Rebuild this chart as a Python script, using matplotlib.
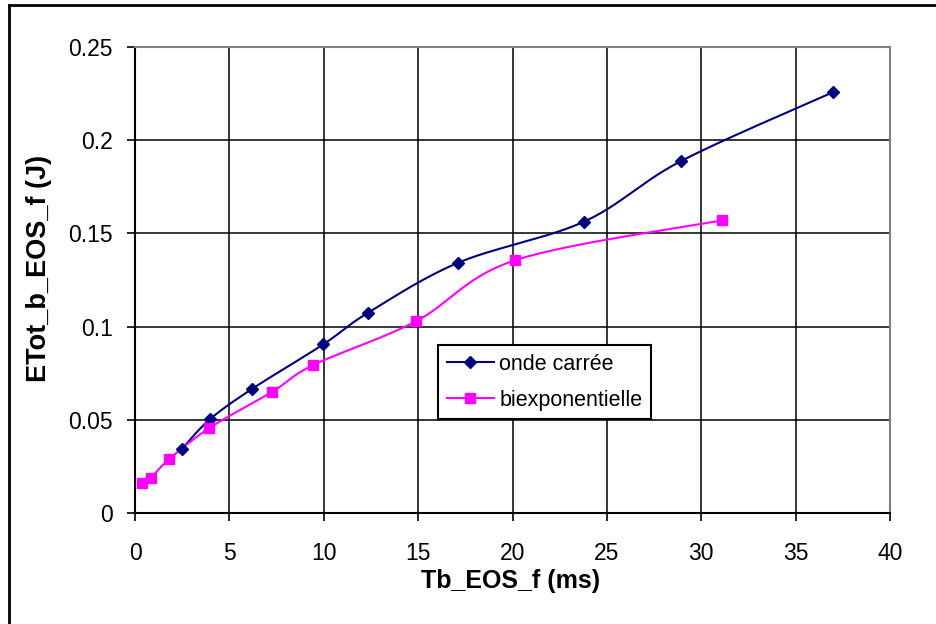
import numpy as np
import matplotlib
matplotlib.use("agg")
import matplotlib.pyplot as plt
from matplotlib.lines import Line2D

# Data
onde_x = [2.47, 3.97, 6.22, 9.98, 12.36, 17.13, 23.79, 28.93, 36.97]
onde_y = [0.0342, 0.0503, 0.0667, 0.0905, 0.1075, 0.1343, 0.1563, 0.1888, 0.2257]
biexp_x = [0.37, 0.83, 1.80, 3.94, 7.24, 9.45, 14.88, 20.14, 31.09]
biexp_y = [0.0163, 0.0188, 0.0288, 0.0456, 0.0648, 0.0794, 0.1028, 0.1356, 0.157]
x_ticks = [0, 5, 10, 15, 20, 25, 30, 35, 40]
y_ticks = [0, 0.05, 0.1, 0.15, 0.2, 0.25]
y_tick_labels = ["0", "0.05", "0.1", "0.15", "0.2", "0.25"]

plt.rcParams['font.family'] = ['Liberation Sans', 'DejaVu Sans']


def smooth(xs, ys, n=30):
    """Excel-like smoothed line: cubic Bezier through points (Catmull-Rom tangents)."""
    p = np.column_stack([xs, ys]).astype(float)
    pts = np.vstack([p[0], p, p[-1]])
    out = []
    t = np.linspace(0, 1, n)[:, None]
    for i in range(1, len(pts) - 2):
        p0, p1, p2, p3 = pts[i - 1], pts[i], pts[i + 1], pts[i + 2]
        c1 = p1 + (p2 - p0) / 6.0
        c2 = p2 - (p3 - p1) / 6.0
        seg = ((1 - t) ** 3) * p1 + 3 * ((1 - t) ** 2) * t * c1 \
            + 3 * (1 - t) * t ** 2 * c2 + t ** 3 * p2
        out.append(seg)
    out = np.vstack(out)
    return out[:, 0], out[:, 1]


fig = plt.figure(figsize=(9.36, 6.24), dpi=100)
ax = fig.add_axes([135 / 936, 1 - 513 / 624, 755 / 936, 466 / 624])

navy = '#000080'
magenta = '#FF00FF'

sx, sy = smooth(onde_x, onde_y)
ax.plot(sx, sy, color=navy, lw=1.5, zorder=3)
ax.plot(onde_x, onde_y, ls='none', marker='D', ms=6.5, color=navy, zorder=4)

sx, sy = smooth(biexp_x, biexp_y)
ax.plot(sx, sy, color=magenta, lw=1.5, zorder=3)
ax.plot(biexp_x, biexp_y, ls='none', marker='s', ms=7.5, color=magenta, zorder=4)

ax.set_xlim(0, 40)
ax.set_ylim(0, 0.25)
ax.set_xticks(x_ticks)
ax.set_yticks(y_ticks)
ax.set_yticklabels(y_tick_labels)
ax.grid(True, color='black', lw=1.1)
ax.set_axisbelow(True)

for side in ['top', 'right']:
    ax.spines[side].set_color('#808080')
    ax.spines[side].set_linewidth(1.5)
for side in ['left', 'bottom']:
    ax.spines[side].set_color('black')
    ax.spines[side].set_linewidth(1.5)

ax.tick_params(axis='both', direction='out', length=6, width=1.2, labelsize=16.5, color='black')
ax.tick_params(axis='x', pad=15)
ax.tick_params(axis='y', pad=10)

ax.set_xlabel('Tb_EOS_f (ms)', fontsize=18, fontweight='bold')
ax.set_ylabel('ETot_b_EOS_f (J)', fontsize=19.5, fontweight='bold')
ax.xaxis.set_label_coords(0.498, -0.12)
ax.yaxis.set_label_coords(-0.11, 0.525)

handles = [
    Line2D([], [], color=navy, lw=1.5, marker='D', ms=6.5),
    Line2D([], [], color=magenta, lw=1.5, marker='s', ms=7.5),
]
leg = ax.legend(handles, ['onde carrée', 'biexponentielle'], loc='upper left',
                bbox_to_anchor=((438 - 135) / 755, (513 - 345) / 466),
                borderaxespad=0, fontsize=15.5, handlelength=2.2, handletextpad=0.25,
                labelspacing=0.7, borderpad=0.4, fancybox=False, framealpha=1)
leg.get_frame().set_edgecolor('black')
leg.get_frame().set_linewidth(1.5)

# outer chart border (left and top edges visible)
fig.add_artist(Line2D([9 / 936, 9 / 936], [0, 1 - 5 / 624], transform=fig.transFigure,
                      color='black', lw=2))
fig.add_artist(Line2D([9 / 936, 1], [1 - 5 / 624, 1 - 5 / 624], transform=fig.transFigure,
                      color='black', lw=2))

fig.savefig('out.png', dpi=100)
